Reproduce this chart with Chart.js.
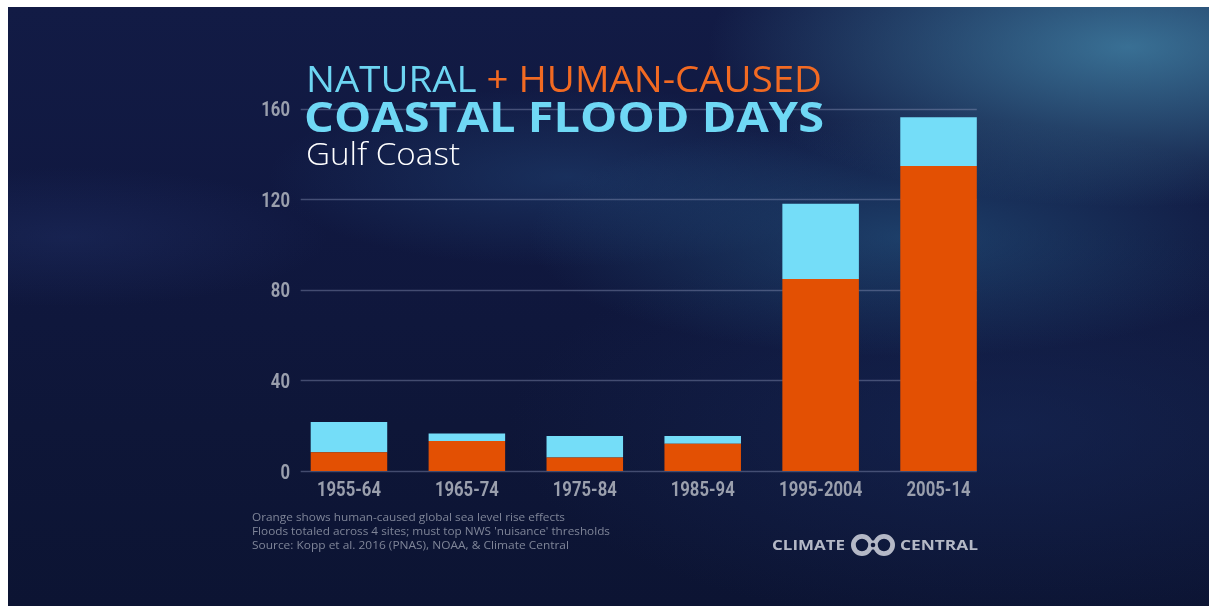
<!DOCTYPE html>
<html>
<head>
<meta charset="utf-8">
<script src="https://cdn.jsdelivr.net/npm/chart.js@4/dist/chart.umd.min.js"></script>
<style>
  html, body { margin: 0; padding: 0; background: #ffffff; }
  #wrap { position: relative; width: 1209px; height: 606px; overflow: hidden; background: #ffffff; }
  #bg {
    position: absolute; left: 8px; top: 7px; right: 0; bottom: 0;
    background:
      radial-gradient(ellipse 420px 160px at 1120px 40px, rgba(70,140,175,0.75), rgba(70,140,175,0) 100%),
      radial-gradient(ellipse 380px 120px at 900px 230px, rgba(40,95,140,0.55), rgba(40,95,140,0) 100%),
      radial-gradient(ellipse 300px 90px at 560px 170px, rgba(35,75,125,0.45), rgba(35,75,125,0) 100%),
      radial-gradient(ellipse 260px 70px at 60px 230px, rgba(40,60,120,0.3), rgba(40,60,120,0) 100%),
      radial-gradient(ellipse 500px 200px at 1000px 420px, rgba(25,45,95,0.5), rgba(25,45,95,0) 100%),
      linear-gradient(180deg, #121b45 0%, #101840 35%, #0e1638 70%, #0c1433 100%);
  }
  canvas { position: absolute; left: 0; top: 0; }
  .t { position: absolute; white-space: nowrap; line-height: 1; transform-origin: 0 0; }
  #l1 { left: 306px; top: 61px; font-family: "Open Sans", sans-serif; font-size: 36px; font-weight: 400; }
  #l2 { left: 304px; top: 96px; font-family: "Open Sans", sans-serif; font-size: 41px; font-weight: 700; color: #6fd8f5; }
  #l3 { left: 306px; top: 137px; font-family: "Open Sans", sans-serif; font-size: 32px; font-weight: 300; color: #ffffff; }
  .cy { color: #6dd5f2; }
  .or { color: #f26a22; }
  .n { left: 252px; font-family: "Open Sans", sans-serif; font-size: 11px; color: #7f8598; }
  #n1 { top: 511px; }
  #n2 { top: 525px; }
  #n3 { top: 539px; }
  .lg { top: 539px; font-family: "Open Sans", sans-serif; font-weight: 700; font-size: 13.5px; color: #b4b8c6; }
  #lg1 { left: 772px; }
  #lg2 { left: 900px; }
  #ring { position: absolute; left: 850px; top: 534px; }
</style>
</head>
<body>
<div id="wrap">
  <div id="bg"></div>
  <canvas id="c" width="1209" height="606"></canvas>
  <div class="t" id="l1"><span class="cy">NATURAL</span><span class="or"> + HUMAN-CAUSED</span></div>
  <div class="t" id="l2">COASTAL FLOOD DAYS</div>
  <div class="t" id="l3">Gulf Coast</div>
  <div class="t n" id="n1">Orange shows human-caused global sea level rise effects</div>
  <div class="t n" id="n2">Floods totaled across 4 sites; must top NWS 'nuisance' thresholds</div>
  <div class="t n" id="n3">Source: Kopp et al. 2016 (PNAS), NOAA, &amp; Climate Central</div>
  <div class="t lg" id="lg1">CLIMATE</div>
  <svg id="ring" width="46" height="22" viewBox="0 0 46 22"><circle cx="12" cy="11" r="8.6" fill="none" stroke="#b4b8c6" stroke-width="4.8"/><circle cx="34" cy="11" r="8.6" fill="none" stroke="#b4b8c6" stroke-width="4.8"/><rect x="19" y="6.5" width="8" height="9" fill="#b4b8c6"/><circle cx="23" cy="11" r="2.3" fill="#0e1638"/></svg>
  <div class="t lg" id="lg2">CENTRAL</div>
</div>
<script>
// ---- data ----
const categories = ["1955-64", "1965-74", "1975-84", "1985-94", "1995-2004", "2005-14"];
const humanCaused = [8.3, 13.2, 6.0, 12.0, 84.7, 134.6];
const natural = [13.3, 3.4, 9.4, 3.4, 33.3, 21.5];
const yTicks = [0, 40, 80, 120, 160];

// ---- text fitting (horizontal scale) ----
function fitWidth(el, target) {
  el.style.transform = "none";
  const w = el.getBoundingClientRect().width;
  el.style.transform = "scaleX(" + (target / w) + ")";
}
fitWidth(document.getElementById("l1"), 516);
fitWidth(document.getElementById("l2"), 520);
fitWidth(document.getElementById("l3"), 154);
fitWidth(document.getElementById("n1"), 313);
fitWidth(document.getElementById("n2"), 358);
fitWidth(document.getElementById("n3"), 317);
fitWidth(document.getElementById("lg1"), 73);
fitWidth(document.getElementById("lg2"), 78);

const tickFontStr = "700 21px Roboto, sans-serif";
const tickColor = "#9a9fad";

const gridPlugin = {
  id: "customGrid",
  beforeDatasetsDraw(chart) {
    const { ctx, scales } = chart;
    const y = scales.y;
    const meta = chart.getDatasetMeta(0);
    const first = meta.data[0], last = meta.data[meta.data.length - 1];
    const left = first.x - first.width / 2 - 10;
    const right = last.x + last.width / 2;
    ctx.save();
    ctx.strokeStyle = "rgba(140,150,185,0.42)";
    ctx.lineWidth = 1.5;
    y.ticks.forEach(t => {
      const py = Math.round(y.getPixelForValue(t.value)) + 0.5;
      ctx.beginPath();
      ctx.moveTo(left, py);
      ctx.lineTo(right, py);
      ctx.stroke();
    });
    ctx.restore();
  },
  afterDraw(chart) {
    // condensed tick labels drawn from the library's scales
    const { ctx, scales } = chart;
    const x = scales.x, y = scales.y;
    ctx.save();
    ctx.font = tickFontStr;
    ctx.fillStyle = tickColor;
    const sx = 64 / ctx.measureText("1955-64").width;
    ctx.textBaseline = "alphabetic";
    x.ticks.forEach((t, i) => {
      const label = x.getLabelForValue(t.value);
      const px = x.getPixelForTick(i);
      const w = ctx.measureText(label).width * sx;
      ctx.save();
      ctx.translate(px - w / 2, chart.chartArea.bottom + 24.5);
      ctx.scale(sx, 1);
      ctx.textAlign = "left";
      ctx.fillText(label, 0, 0);
      ctx.restore();
    });
    y.ticks.forEach(t => {
      const label = String(t.value);
      const py = y.getPixelForValue(t.value);
      ctx.save();
      ctx.translate(chart.chartArea.left, py + 7.5);
      ctx.scale(sx, 1);
      ctx.textAlign = "right";
      ctx.fillText(label, 0, 0);
      ctx.restore();
    });
    ctx.restore();
  }
};

new Chart(document.getElementById("c"), {
  type: "bar",
  data: {
    labels: categories,
    datasets: [
      { label: "Human-caused", data: humanCaused, backgroundColor: "#e35003", borderWidth: 0 },
      { label: "Natural", data: natural, backgroundColor: "#74ddf8", borderWidth: 0 }
    ]
  },
  options: {
    responsive: false,
    animation: false,
    layout: { padding: { left: 230, right: 211.5, top: 108.5, bottom: 95 } },
    plugins: { legend: { display: false }, tooltip: { enabled: false }, title: { display: false } },
    datasets: { bar: { barPercentage: 0.649, categoryPercentage: 1.0 } },
    scales: {
      x: {
        stacked: true,
        grid: { display: false, drawTicks: false },
        border: { display: false },
        ticks: { display: false, autoSkip: false },
        afterFit(s) { s.height = 40; }
      },
      y: {
        stacked: true,
        min: 0, max: 160,
        afterBuildTicks(s) { s.ticks = yTicks.map(v => ({ value: v })); },
        grid: { display: false, drawTicks: false },
        border: { display: false },
        ticks: { display: false },
        afterFit(s) { s.width = 60; }
      }
    }
  },
  plugins: [gridPlugin]
});
</script>
</body>
</html>
